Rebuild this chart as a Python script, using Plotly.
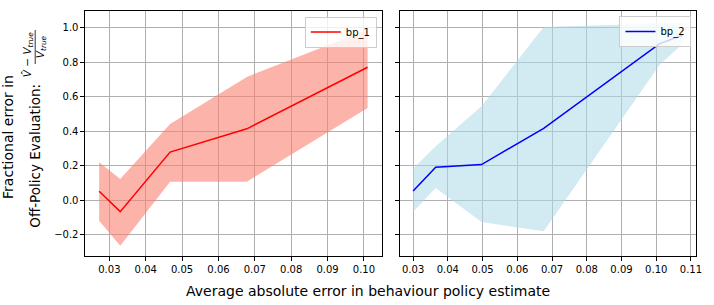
import plotly.graph_objects as go

# ---- data ----
bp1_x = [0.0272, 0.0330, 0.0467, 0.0678, 0.1010]
bp1_mean = [0.053, -0.065, 0.280, 0.415, 0.772]
bp1_upper = [0.221, 0.125, 0.443, 0.716, 0.990]
bp1_lower = [-0.117, -0.262, 0.109, 0.109, 0.536]

bp2_x = [0.0300, 0.0365, 0.0497, 0.0676, 0.1010, 0.1076]
bp2_mean = [0.055, 0.192, 0.208, 0.418, 0.909, 0.957]
bp2_upper = [0.183, 0.314, 0.546, 1.005, 1.025, 1.030]
bp2_lower = [-0.065, 0.072, -0.125, -0.179, 0.787, 0.907]

y_ticks = [-0.2, 0.0, 0.2, 0.4, 0.6, 0.8, 1.0]
y_ticktext = ["\u22120.2", "0.0", "0.2", "0.4", "0.6", "0.8", "1.0"]
x1_ticks = [0.03, 0.04, 0.05, 0.06, 0.07, 0.08, 0.09, 0.10]
x2_ticks = [0.03, 0.04, 0.05, 0.06, 0.07, 0.08, 0.09, 0.10, 0.11]

W, H = 714, 305
FONT = "DejaVu Sans"


def px_x(p):
    return p / W


def px_y(p):
    return 1 - p / H


fig = go.Figure()

# left panel
fig.add_trace(go.Scatter(x=bp1_x, y=bp1_upper, mode="lines", line=dict(width=0, color="rgba(250,128,114,0.6)"),
                         showlegend=False, hoverinfo="skip", xaxis="x", yaxis="y"))
fig.add_trace(go.Scatter(x=bp1_x, y=bp1_lower, mode="lines", line=dict(width=0, color="rgba(250,128,114,0.6)"),
                         fill="tonexty", fillcolor="rgba(250,128,114,0.6)",
                         showlegend=False, hoverinfo="skip", xaxis="x", yaxis="y"))
fig.add_trace(go.Scatter(x=bp1_x, y=bp1_mean, mode="lines", name="bp_1", line=dict(color="red", width=1.5),
                         xaxis="x", yaxis="y", legend="legend"))

# right panel
fig.add_trace(go.Scatter(x=bp2_x, y=bp2_upper, mode="lines", line=dict(width=0, color="rgba(173,216,230,0.55)"),
                         showlegend=False, hoverinfo="skip", xaxis="x2", yaxis="y2"))
fig.add_trace(go.Scatter(x=bp2_x, y=bp2_lower, mode="lines", line=dict(width=0, color="rgba(173,216,230,0.55)"),
                         fill="tonexty", fillcolor="rgba(173,216,230,0.55)",
                         showlegend=False, hoverinfo="skip", xaxis="x2", yaxis="y2"))
fig.add_trace(go.Scatter(x=bp2_x, y=bp2_mean, mode="lines", name="bp_2", line=dict(color="blue", width=1.5),
                         xaxis="x2", yaxis="y2", legend="legend2"))

axis_common = dict(
    showline=True, linecolor="black", linewidth=1, mirror=True,
    ticks="outside", ticklen=3.5, tickwidth=0.8, tickcolor="black",
    showgrid=True, gridcolor="#b0b0b0", gridwidth=0.8, zeroline=False,
    tickfont=dict(family=FONT, size=10, color="black"),
)

ydom = [px_y(256), px_y(11)]
fig.update_layout(
    width=W, height=H,
    margin=dict(l=0, r=0, t=0, b=0),
    paper_bgcolor="white", plot_bgcolor="white",
    font=dict(family=FONT, color="black"),
    xaxis=dict(domain=[px_x(85.7), px_x(385)], range=[0.0233, 0.1049], tickvals=x1_ticks,
               tickformat=".2f", anchor="y", **axis_common),
    yaxis=dict(domain=ydom, range=[-0.322, 1.098], tickvals=y_ticks, ticktext=y_ticktext,
               anchor="x", **axis_common),
    xaxis2=dict(domain=[px_x(403.3), px_x(701.7)], range=[0.0262, 0.1114], tickvals=x2_ticks,
                tickformat=".2f", anchor="y2", **axis_common),
    yaxis2=dict(domain=ydom, range=[-0.322, 1.098], tickvals=y_ticks, showticklabels=False,
                anchor="x2", **axis_common),
    legend=dict(x=px_x(380), y=px_y(16.5), xanchor="right", yanchor="top",
                bgcolor="rgba(255,255,255,0.8)", bordercolor="#cccccc", borderwidth=1,
                font=dict(family=FONT, size=10, color="black"), itemwidth=30,
                tracegroupgap=0),
    legend2=dict(x=px_x(697.3), y=px_y(16), xanchor="right", yanchor="top",
                 bgcolor="rgba(255,255,255,0.8)", bordercolor="#cccccc", borderwidth=1,
                 font=dict(family=FONT, size=10, color="black"), itemwidth=30,
                 tracegroupgap=0),
    showlegend=True,
)

annotations = [
    dict(text="Average absolute error in behaviour policy estimate", x=px_x(371), y=px_y(291),
         xref="paper", yref="paper", xanchor="center", yanchor="middle", showarrow=False,
         font=dict(family=FONT, size=14, color="black")),
    dict(text="Fractional error in", x=px_x(8), y=px_y(137), xref="paper", yref="paper",
         xanchor="center", yanchor="middle", textangle=-90, showarrow=False,
         font=dict(family=FONT, size=14, color="black")),
    dict(text="Off-Policy Evaluation:", x=px_x(35), y=px_y(230), xref="paper", yref="paper",
         xanchor="center", yanchor="bottom", textangle=-90, showarrow=False,
         font=dict(family=FONT, size=13.5, color="black")),
    dict(text="<i>V\u0302</i> \u2212 <i>V</i><sub><i>true</i></sub>", x=px_x(28.5), y=px_y(55),
         xref="paper", yref="paper", xanchor="center", yanchor="middle", textangle=-90,
         showarrow=False, font=dict(family=FONT, size=10.5, color="black")),
    dict(text="<i>V</i><sub><i>true</i></sub>", x=px_x(41.5), y=px_y(47),
         xref="paper", yref="paper", xanchor="center", yanchor="middle", textangle=-90,
         showarrow=False, font=dict(family=FONT, size=10.5, color="black")),
]
fig.update_layout(annotations=annotations)
fig.add_shape(type="line", xref="paper", yref="paper", x0=px_x(35.5), x1=px_x(35.5),
              y0=px_y(30), y1=px_y(64), line=dict(color="black", width=0.8))

fig.write_html("out.html", config={"displayModeBar": False},
               post_script="document.body.style.margin='0';document.body.style.padding='0';"
                           "document.documentElement.style.overflow='hidden';")
